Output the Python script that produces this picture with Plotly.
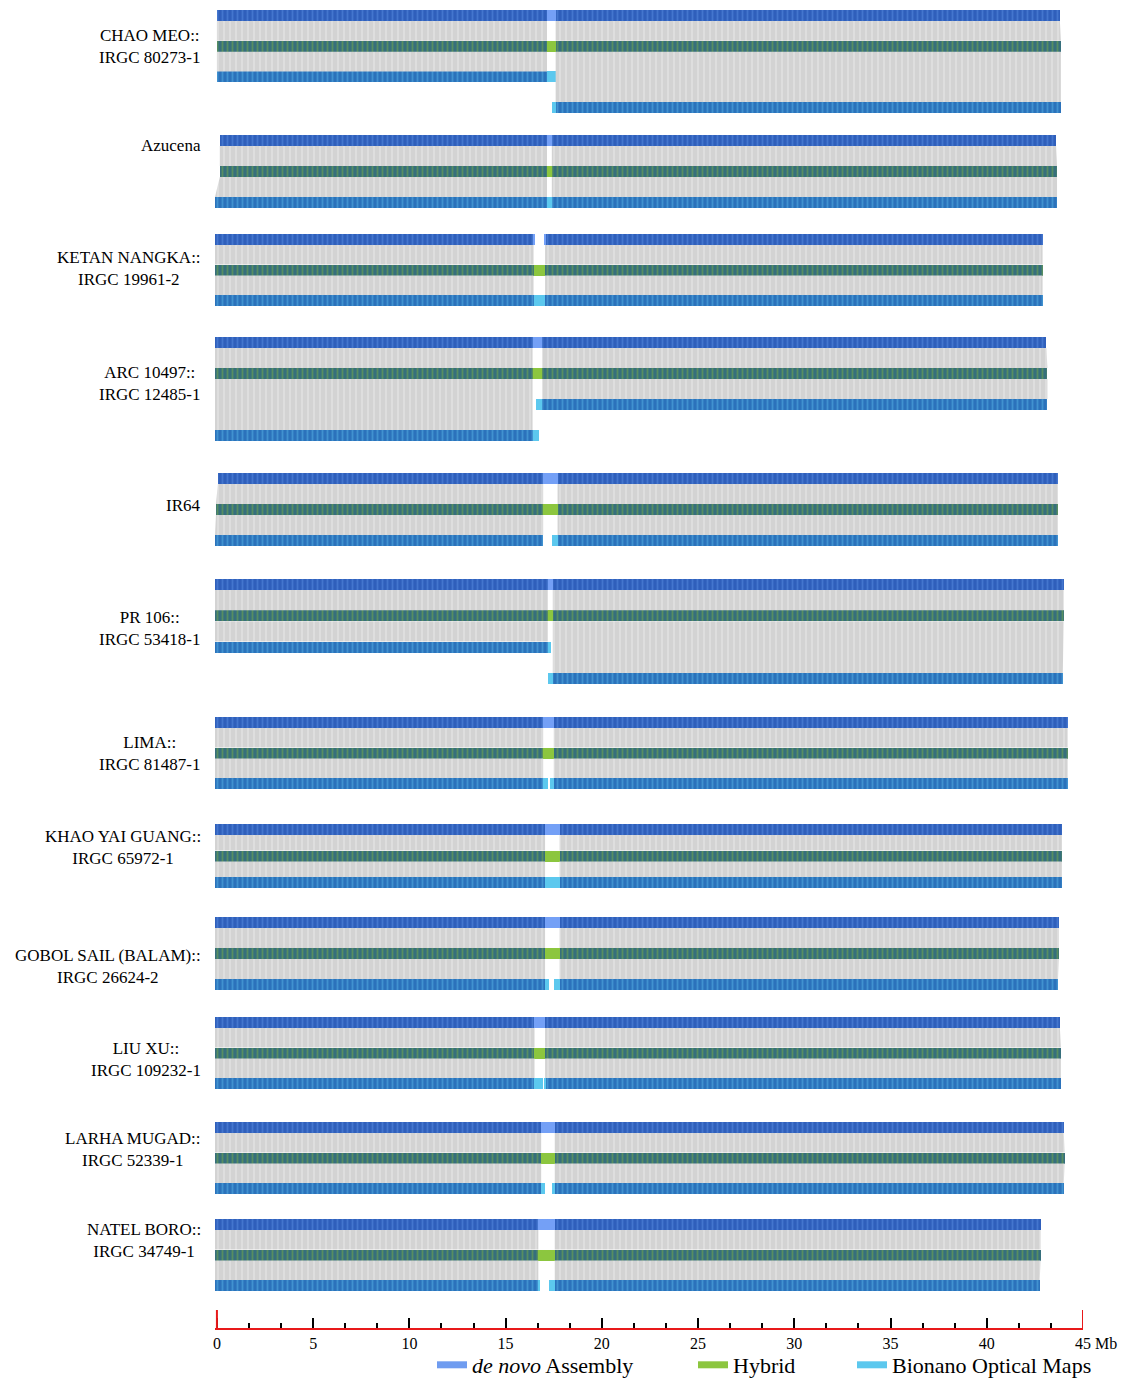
import plotly.graph_objects as go

# ---------------- data (Mb) ----------------
LABELS = [
    "CHAO MEO::<br>IRGC 80273-1",
    "Azucena",
    "KETAN NANGKA::<br>IRGC 19961-2",
    "ARC 10497::<br>IRGC 12485-1",
    "IR64",
    "PR 106::<br>IRGC 53418-1",
    "LIMA::<br>IRGC 81487-1",
    "KHAO YAI GUANG::<br>IRGC 65972-1",
    "GOBOL SAIL (BALAM)::<br>IRGC 26624-2",
    "LIU XU::<br>IRGC 109232-1",
    "LARHA MUGAD::<br>IRGC 52339-1",
    "NATEL BORO::<br>IRGC 34749-1",
]

# de novo assembly segments (start, end)
DENOVO = [
    [(0.0, 43.8)],
    [(0.15, 43.6)],
    [(-0.1, 16.5), (17.0, 42.9)],
    [(-0.1, 43.1)],
    [(0.05, 43.7)],
    [(-0.1, 44.0)],
    [(-0.1, 44.2)],
    [(-0.1, 43.9)],
    [(-0.1, 43.75)],
    [(-0.1, 43.8)],
    [(-0.1, 44.0)],
    [(-0.1, 42.8)],
]

# hybrid scaffold (start, end)
HYBRID = [
    (0.0, 43.85), (0.15, 43.65), (-0.1, 42.9), (-0.1, 43.15),
    (-0.05, 43.7), (-0.1, 44.0), (-0.1, 44.2), (-0.1, 43.9),
    (-0.1, 43.75), (-0.1, 43.85), (-0.1, 44.05), (-0.1, 42.8),
]

# Bionano optical maps (start, end, row)
BIONANO = [
    [(0.0, 17.7, 0), (17.4, 43.85, 1)],
    [(-0.1, 43.65, 0)],
    [(-0.1, 42.9, 0)],
    [(16.6, 43.15, 0), (-0.1, 16.75, 1)],
    [(-0.1, 16.95, 0), (17.4, 43.7, 0)],
    [(-0.1, 17.35, 0), (17.2, 43.95, 1)],
    [(-0.1, 17.2, 0), (17.3, 44.2, 0)],
    [(-0.1, 43.9, 0)],
    [(-0.1, 17.25, 0), (17.5, 43.7, 0)],
    [(-0.1, 16.95, 0), (17.0, 43.85, 0)],
    [(-0.1, 17.05, 0), (17.4, 44.0, 0)],
    [(-0.1, 16.8, 0), (17.25, 42.75, 0)],
]

# centromeric gap without alignments (start, end)
GAPS = [
    (17.15, 17.6), (17.15, 17.4), (16.45, 17.05), (16.4, 16.9),
    (16.95, 17.7), (17.2, 17.45), (16.95, 17.5), (17.05, 17.8),
    (17.05, 17.8), (16.5, 17.05), (16.85, 17.55), (16.7, 17.55),
]

TICK_VALS = [0, 5, 10, 15, 20, 25, 30, 35, 40, 45]
TICK_TEXT = ["0", "5", "10", "15", "20", "25", "30", "35", "40", "45"]

# ---------------- layout constants (pixels) ----------------
PANEL_TOP = [10, 135, 234, 337, 473, 579, 717, 824, 917, 1017, 1122, 1219]
ROW_STEP = [30.7, 31, 30.5, 31, 31, 31.3, 30.5, 26.5, 31, 30.5, 30.5, 30.5]
LABEL_Y = [46, 145, 268, 383, 505, 628, 753, 847, 966, 1059, 1149, 1240]
TRACK_H = 11
AXIS_Y = 1328
W, H = 1123, 1383
L_PX, R_PX = 215, 1083
X0 = -0.1
SERIF = "Liberation Serif, Times New Roman, serif"


def px_x(px):
    return (px - L_PX) / (R_PX - L_PX)


def px_y(py):
    return 1 - py / H


def side_pieces(segs, gap):
    g0, g1 = gap
    out = []
    for a, b in segs:
        if a < g0:
            out.append(("L", a, min(b, g0)))
        if b > g1:
            out.append(("R", max(a, g1), b))
    return [p for p in out if p[2] - p[1] > 0.05]


def band_polys(upper, lower, gap, tol=0.6):
    up = side_pieces(upper, gap)
    polys = []
    for s, lx0, lx1 in side_pieces(lower, gap):
        same = [(a, b) for (t, a, b) in up if t == s and b > lx0 and a < lx1 + tol]
        if not same:
            continue
        ux0, ux1 = lx0, lx1
        starts = [a for a, b in same if abs(a - lx0) < tol]
        ends = [b for a, b in same if abs(b - lx1) < tol]
        if starts:
            ux0 = min(starts, key=lambda v: abs(v - lx0))
        if ends:
            ux1 = min(ends, key=lambda v: abs(v - lx1))
        polys.append((ux0, ux1, lx0, lx1))
    return polys


fig = go.Figure()

# ---------------- grey alignment bands ----------------
bx, by = [], []
for i in range(len(LABELS)):
    top = PANEL_TOP[i]
    step = ROW_STEP[i]
    gap = GAPS[i]
    y_dn = top
    y_hy = top + step
    hyb = [HYBRID[i]]
    for ux0, ux1, lx0, lx1 in band_polys(DENOVO[i], hyb, gap):
        yt, yb = y_dn + TRACK_H, y_hy
        bx += [ux0, ux1, lx1, lx0, ux0, None]
        by += [yt, yt, yb, yb, yt, None]
    for a, b, r in BIONANO[i]:
        y_bn = top + step * (2 + r)
        for ux0, ux1, lx0, lx1 in band_polys(hyb, [(a, b)], gap):
            yt, yb = y_hy + TRACK_H, y_bn
            bx += [ux0, ux1, lx1, lx0, ux0, None]
            by += [yt, yt, yb, yb, yt, None]

fig.add_trace(go.Scatter(
    x=bx, y=by, mode="lines", fill="toself", line=dict(width=0),
    fillcolor="#d8d8d8",
    fillpattern=dict(shape="|", fgcolor="#f0f0f0", bgcolor="#d3d3d3", size=6, solidity=0.25),
    hoverinfo="skip", showlegend=False,
))

# ---------------- tracks ----------------
STYLE = {
    "denovo": dict(bg="#2f5fbb", fg="#5a8ee2", gap="#74a0f6"),
    "hybrid": dict(bg="#366f7c", fg="#78ad45", gap="#8cc63f"),
    "bionano": dict(bg="#2b72bb", fg="#58b2e6", gap="#5cc8ee"),
}

tracks = {k: dict(y=[], base=[], x=[], gy=[], gbase=[], gx=[]) for k in STYLE}


def add_seg(key, y_top, a, b, gap):
    t = tracks[key]
    yc = y_top + TRACK_H / 2
    t["y"].append(yc)
    t["base"].append(a)
    t["x"].append(b - a)
    g0, g1 = max(a, gap[0]), min(b, gap[1])
    if g1 > g0:
        t["gy"].append(yc)
        t["gbase"].append(g0)
        t["gx"].append(g1 - g0)


for i in range(len(LABELS)):
    top = PANEL_TOP[i]
    step = ROW_STEP[i]
    gap = GAPS[i]
    for a, b in DENOVO[i]:
        add_seg("denovo", top, a, b, gap)
    add_seg("hybrid", top + step, HYBRID[i][0], HYBRID[i][1], gap)
    for a, b, r in BIONANO[i]:
        add_seg("bionano", top + step * (2 + r), a, b, gap)

for key, st in STYLE.items():
    t = tracks[key]
    fig.add_trace(go.Bar(
        y=t["y"], x=t["x"], base=t["base"], orientation="h", width=TRACK_H,
        marker=dict(color=st["bg"], line=dict(width=0),
                    pattern=dict(shape="|", fgcolor=st["fg"], bgcolor=st["bg"],
                                 size=5, solidity=0.35)),
        hoverinfo="skip", showlegend=False,
    ))
    fig.add_trace(go.Bar(
        y=t["gy"], x=t["gx"], base=t["gbase"], orientation="h", width=TRACK_H,
        marker=dict(color=st["gap"], line=dict(width=0)),
        hoverinfo="skip", showlegend=False,
    ))

# ---------------- legend entries ----------------
LEG = [
    ("<i>de novo</i> Assembly", "#6f9cf0", "legend", 432),
    ("Hybrid", "#8cc63f", "legend2", 693),
    ("Bionano Optical Maps", "#5cc8ee", "legend3", 852),
]
for name, col, lg, _ in LEG:
    fig.add_trace(go.Scatter(x=[None], y=[None], mode="lines", name=name,
                             line=dict(color=col, width=7), legend=lg))

leg_common = dict(orientation="h", yanchor="middle", xanchor="left",
                  font=dict(family=SERIF, size=22, color="black"),
                  bgcolor="rgba(0,0,0,0)", itemwidth=30, borderwidth=0)
layout_legends = {}
for name, col, lg, px in LEG:
    layout_legends[lg] = dict(x=px_x(px), y=px_y(1365), **leg_common)

# ---------------- labels ----------------
annotations = []
for lab, ly in zip(LABELS, LABEL_Y):
    annotations.append(dict(
        x=px_x(203), xref="paper", y=ly, yref="y", text=lab, showarrow=False,
        xanchor="right", yanchor="middle", align="center",
        font=dict(family=SERIF, size=17, color="black"),
    ))
annotations.append(dict(
    x=px_x(1093), xref="paper", y=px_y(1343), yref="paper", text="Mb",
    showarrow=False, xanchor="left", yanchor="middle",
    font=dict(family=SERIF, size=16, color="black"),
))

shapes = []
for xv in (0, 45):
    shapes.append(dict(type="line", xref="x", yref="y", x0=xv, x1=xv,
                       y0=AXIS_Y - 18, y1=AXIS_Y, line=dict(color="#e8191a", width=2)))

fig.update_layout(
    width=W, height=H,
    margin=dict(l=L_PX, r=W - R_PX, t=0, b=0, pad=0, autoexpand=False),
    paper_bgcolor="white", plot_bgcolor="white",
    barmode="overlay", bargap=0,
    annotations=annotations, shapes=shapes,
    xaxis=dict(range=[X0, 45], showgrid=False, zeroline=False,
               showline=True, linecolor="#e8191a", linewidth=2,
               ticks="inside", ticklen=10, tickwidth=1.5, tickcolor="black",
               tickvals=TICK_VALS, ticktext=TICK_TEXT,
               tickfont=dict(family=SERIF, size=16, color="black"),
               minor=dict(dtick=5 / 3, tick0=0, ticks="inside", ticklen=5,
                          tickwidth=1.5, tickcolor="black"),
               automargin=False, fixedrange=True),
    yaxis=dict(range=[AXIS_Y, 0], domain=[(H - AXIS_Y) / H, 1], visible=False,
               fixedrange=True),
    **layout_legends,
)

fig.write_html("out.html")
